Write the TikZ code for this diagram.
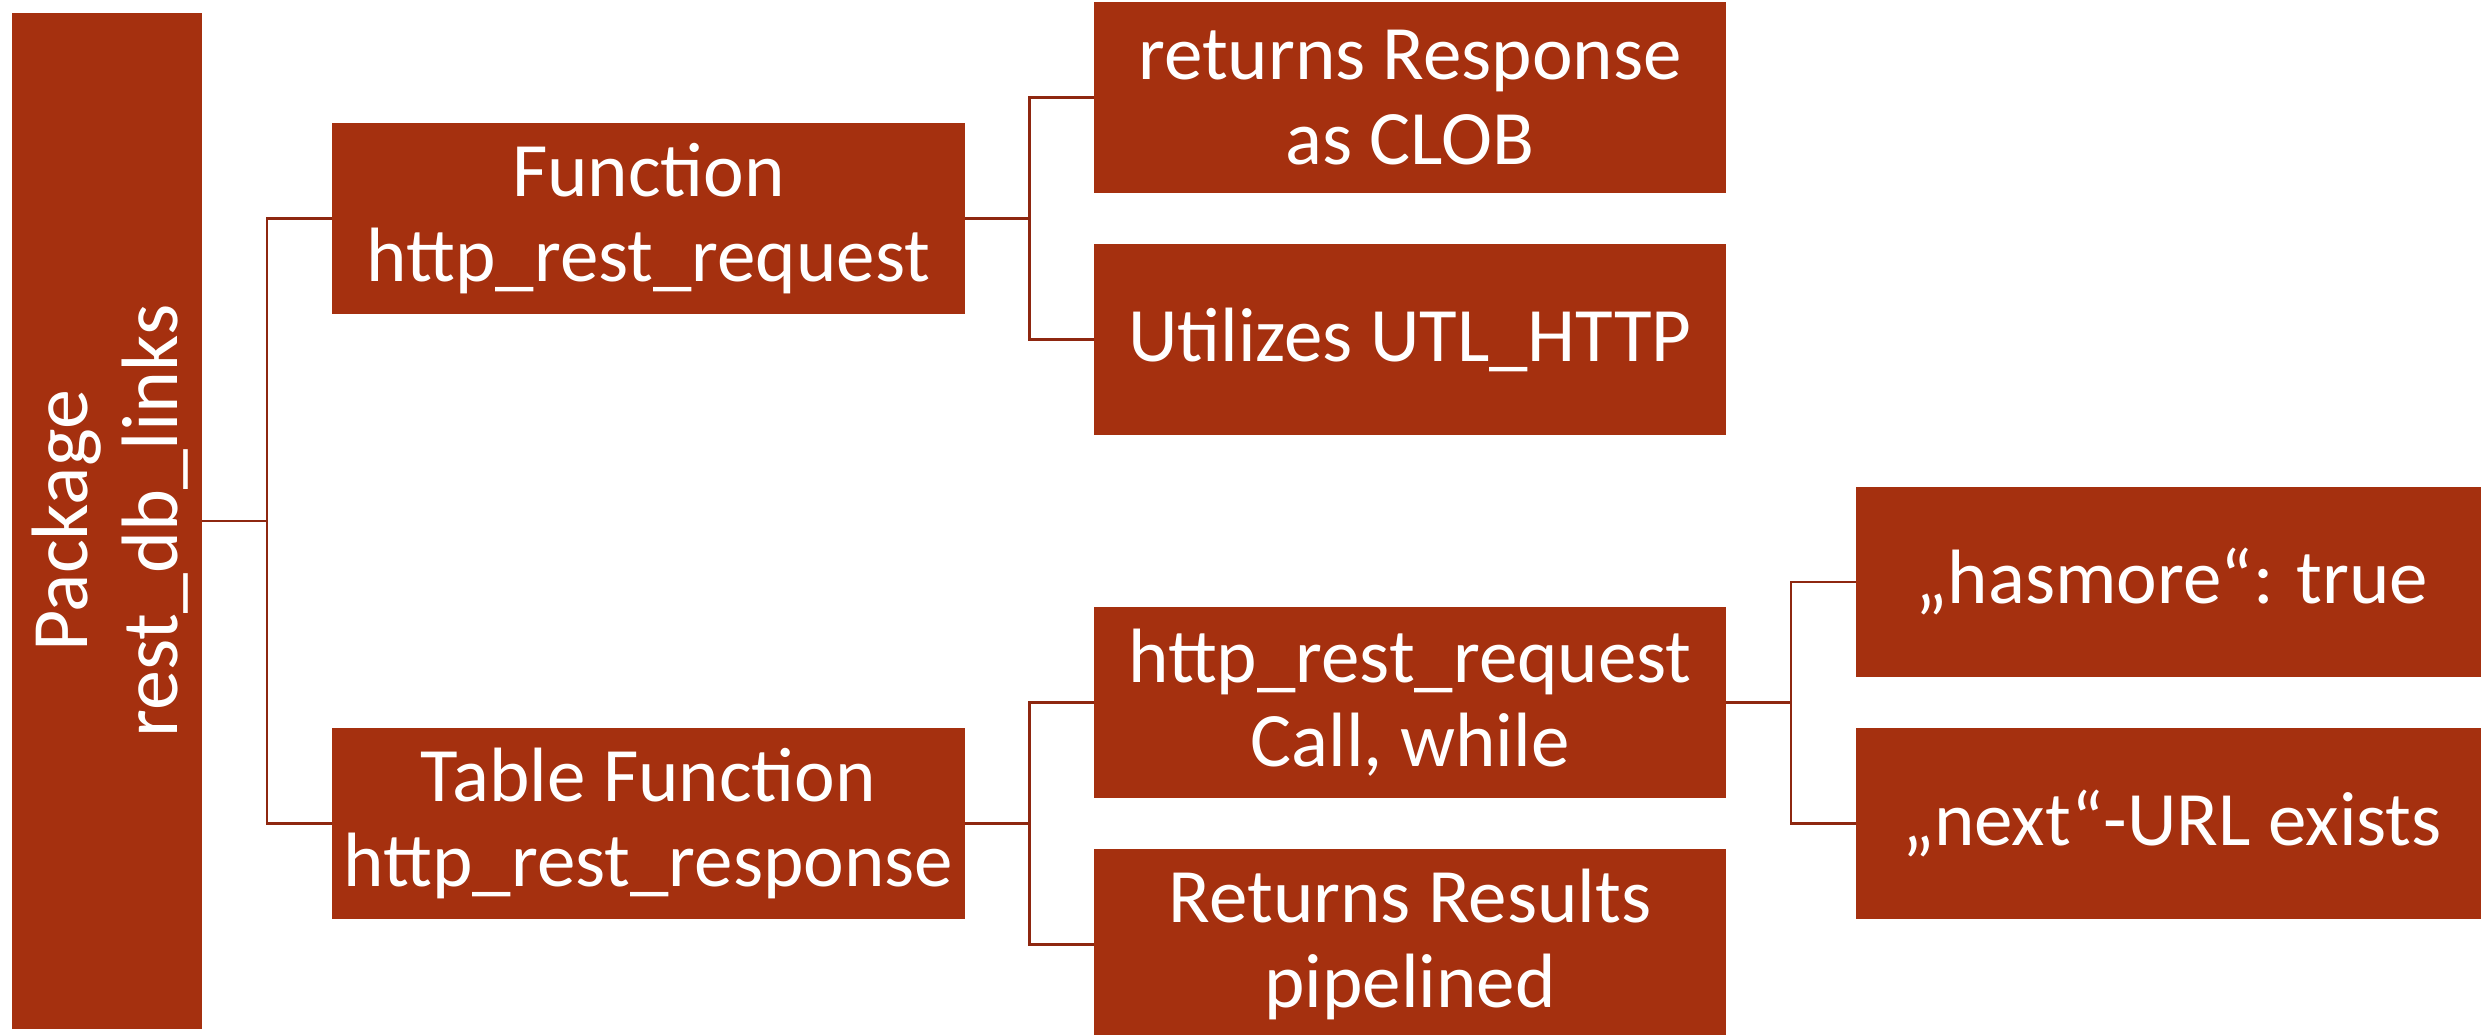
\documentclass[tikz,border=0pt]{standalone}
\usepackage{fontspec}
\setmainfont{Carlito}
\definecolor{boxfill}{HTML}{A5300F}
\definecolor{linec}{HTML}{8E2710}
\begin{document}
\begin{tikzpicture}[x=1pt,y=-1pt,
  box/.style={fill=boxfill,inner sep=0pt,outer sep=0pt,text=white,align=center,
    font=\fontsize{77}{84.5}\selectfont},
  lbl/.style={inner sep=0pt,text=white,align=center,font=\fontsize{77}{84.5}\selectfont},
  conn/.style={draw=linec,line width=2.7pt}]
\clip (0,0) rectangle (2481,1035);
\useasboundingbox (0,0) rectangle (2481,1035);
% level 0
\node[box,minimum width=190,minimum height=1016] (pkg) at (107,521) {};
\node[lbl,rotate=90,font=\fontsize{80}{90}\selectfont] (pkgt) at (110,521) {Package\\rest\_db\_links};
% level 1
\node[box,minimum width=633,minimum height=191] (f1) at (648.5,218.5) {Function\\http\_rest\_request};
\node[box,minimum width=633,minimum height=191] (f2) at (648.5,823.5) {Table Function\\http\_rest\_response};
% level 2
\node[box,minimum width=632,minimum height=191] (r1) at (1410,97.5) {returns Response\\as CLOB};
\node[box,minimum width=632,minimum height=191] (r2) at (1410,339.5) {Utilizes UTL\_HTTP};
\node[box,minimum width=632,minimum height=191] (r3) at (1410,702.5) {http\_rest\_request\\Call, while};
\node[box,minimum width=632,minimum height=191] (r4) at (1410,944.5) {Returns Results\\pipelined};
% level 3
\node[box,minimum width=632,minimum height=190] (h1) at (2172,582) {„hasmore“: true};
\node[box,minimum width=632,minimum height=191] (h2) at (2172,823.5) {„next“-URL exists};
% connectors
\draw[conn] (pkg.east) -- ++(65,0) |- (f1.west);
\draw[conn] (pkg.east) -- ++(65,0) |- (f2.west);
\draw[conn] (f1.east) -- ++(64.5,0) |- (r1.west);
\draw[conn] (f1.east) -- ++(64.5,0) |- (r2.west);
\draw[conn] (f2.east) -- ++(64.5,0) |- (r3.west);
\draw[conn] (f2.east) -- ++(64.5,0) |- (r4.west);
\draw[conn] (r3.east) -- ++(65,0) |- (h1.west);
\draw[conn] (r3.east) -- ++(65,0) |- (h2.west);
\end{tikzpicture}
\end{document}
